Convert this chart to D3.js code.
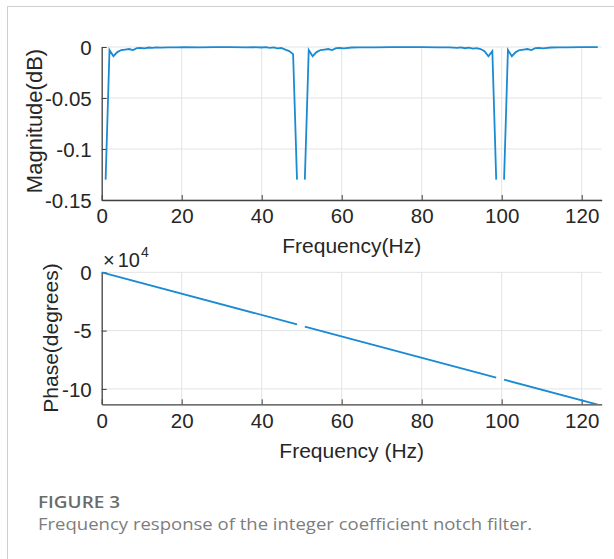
<!DOCTYPE html>
<html>
    <head>
        <script src="https://d3js.org/d3.v7.min.js"></script>
        <style>
            body { margin: 0; background: #ffffff; }
            .tick text { font-family: "Liberation Sans", Arial, sans-serif; }
        </style>
    </head>
    <body>
        <svg id="viz" width="614" height="559"></svg>

        <script>
        // magnitude response, freqz grid (Hz) and dB values; null = notch (-Inf)
        var magFreq = [0.98, 1.95, 2.93, 3.91, 4.88, 5.86, 6.84, 7.81, 8.79, 9.77, 10.74, 11.72, 12.70, 13.67, 14.65, 16.6, 18.6, 20.5, 24.4, 28.3, 32.2, 36.1, 38.1, 40.0, 41.0, 42.0, 43.0, 43.9, 44.9, 45.9, 46.88, 47.85, 48.83, 49.80,
                       50.78, 51.76, 52.73, 53.71, 54.69, 55.66, 56.64, 57.62, 58.59, 59.57, 60.55, 62.5, 64.5, 68.4, 72.3, 76.2, 80.1, 84.0, 86.9, 88.9, 89.8, 90.8, 91.8, 92.8, 93.75, 94.73, 95.70, 96.68, 97.66, 98.63, 99.61,
                       100.59, 101.56, 102.54, 103.52, 104.49, 105.47, 106.45, 107.42, 108.40, 109.38, 110.35, 112.3, 114.3, 116.2, 120.1, 124.02];
        var magDb = [-0.130, -0.003, -0.009, -0.005, -0.003, -0.0025, -0.002, -0.003, -0.0012, -0.001, -0.0013, -0.0005, -0.0009, -0.0004, -0.0006, -0.0003, -0.0004, -0.0002, -0.0003, -0.0002, -0.0002, -0.0003, -0.0002, -0.0005, -0.0002, -0.0009, -0.0003, -0.0013, -0.001, -0.0025, -0.004, -0.007, -0.130, null,
                     -0.130, -0.003, -0.009, -0.005, -0.003, -0.0025, -0.002, -0.003, -0.0012, -0.001, -0.0013, -0.0005, -0.0004, -0.0003, -0.0002, -0.0002, -0.0002, -0.0003, -0.0004, -0.0009, -0.0004, -0.0012, -0.0006, -0.0015, -0.0012, -0.002, -0.004, -0.009, -0.004, -0.130, null,
                     -0.130, -0.003, -0.009, -0.005, -0.003, -0.0025, -0.002, -0.003, -0.0012, -0.001, -0.0013, -0.0005, -0.0004, -0.0003, -0.0002, -0.0002];

        // phase response (degrees), straight runs with breaks at 50 Hz and 100 Hz
        var phaseFreq = [0, 48.83, 49.80, 50.78, 98.63, 99.61, 100.59, 124.02];
        var phaseDeg = [0, -44700, null, -46500, -90300, null, -92100, -113500];

        var freqTicks = [0, 20, 40, 60, 80, 100, 120];
        var magTicks = [0, -0.05, -0.1, -0.15];
        var magTickLabels = ["0", "-0.05", "-0.1", "-0.15"];
        var phaseTicks = [0, -50000, -100000];
        var phaseTickLabels = ["0", "-5", "-10"];

        var svg = d3.select("#viz");
        var lineColor = "#1a8bd2";
        var axisColor = "#404040";
        var gridColor = "#e3e3e3";
        var font = "'Liberation Sans', Arial, sans-serif";
        var capFont = "'Open Sans', Lato, sans-serif";

        // card frame
        svg.append("rect")
            .attr("x", 7.5).attr("y", 6.5)
            .attr("width", 640).attr("height", 600)
            .attr("fill", "none")
            .attr("stroke", "#cfcfcf");

        var x = d3.scaleLinear().domain([0, 125]).range([101.7, 601.7]);
        var yMag = d3.scaleLinear().domain([-0.15, 0]).range([200, 47]);
        var yPh = d3.scaleLinear().domain([-113200, 0]).range([404.3, 272.3]);

        function drawPanel(yScale, yTicks, yLabels, clipId) {
            var top = yScale.range()[1], bottom = yScale.range()[0];
            var g = svg.append("g");

            // grid
            g.selectAll(".vgrid").data(freqTicks.slice(1)).enter().append("line")
                .attr("x1", function(d) { return x(d); }).attr("x2", function(d) { return x(d); })
                .attr("y1", top).attr("y2", bottom)
                .attr("stroke", gridColor);
            g.selectAll(".hgrid").data(yTicks).enter().append("line")
                .attr("x1", x(0)).attr("x2", x(125))
                .attr("y1", function(d) { return yScale(d); }).attr("y2", function(d) { return yScale(d); })
                .attr("stroke", gridColor);

            // axes, ticks pointing inward like matlab
            var xAxis = d3.axisBottom(x).tickValues(freqTicks).tickSize(-5).tickSizeOuter(0).tickPadding(12)
                .tickFormat(d3.format("d"));
            var xg = g.append("g").attr("transform", "translate(0," + bottom + ")").call(xAxis);
            var yAxis = d3.axisLeft(yScale).tickValues(yTicks).tickSize(-5).tickSizeOuter(0).tickPadding(10)
                .tickFormat(function(d, i) { return yLabels[i]; });
            var yg = g.append("g").attr("transform", "translate(" + x(0) + ",0)").call(yAxis);

            [xg, yg].forEach(function(a) {
                a.select(".domain").attr("stroke", axisColor).attr("stroke-width", 1.3);
                a.selectAll(".tick line").attr("stroke", axisColor);
                a.selectAll(".tick text").attr("fill", "#262626").style("font-size", "20.5px");
            });
            xg.selectAll(".tick text").attr("dy", "0.55em");
            yg.selectAll(".tick text").attr("dy", "0.36em");

            svg.append("clipPath").attr("id", clipId).append("rect")
                .attr("x", x(0)).attr("y", top - 2)
                .attr("width", x(125) - x(0)).attr("height", bottom - top + 2);
            return g;
        }

        // top panel: magnitude
        var g1 = drawPanel(yMag, magTicks, magTickLabels, "clipMag");
        var magLine = d3.line()
            .defined(function(d) { return d[1] !== null; })
            .x(function(d) { return x(d[0]); })
            .y(function(d) { return yMag(d[1]); });
        g1.append("path")
            .datum(d3.zip(magFreq, magDb))
            .attr("d", magLine)
            .attr("clip-path", "url(#clipMag)")
            .attr("fill", "none")
            .attr("stroke", lineColor)
            .attr("stroke-width", 1.8);

        // bottom panel: phase
        var g2 = drawPanel(yPh, phaseTicks, phaseTickLabels, "clipPh");
        var phLine = d3.line()
            .defined(function(d) { return d[1] !== null; })
            .x(function(d) { return x(d[0]); })
            .y(function(d) { return yPh(d[1]); });
        g2.append("path")
            .datum(d3.zip(phaseFreq, phaseDeg))
            .attr("d", phLine)
            .attr("clip-path", "url(#clipPh)")
            .attr("fill", "none")
            .attr("stroke", lineColor)
            .attr("stroke-width", 1.8);

        // axis labels
        svg.append("text").attr("x", 351.7).attr("y", 253)
            .attr("text-anchor", "middle").attr("font-family", font).attr("font-size", 21).attr("fill", "#262626")
            .text("Frequency(Hz)");
        svg.append("text").attr("x", 351.7).attr("y", 458)
            .attr("text-anchor", "middle").attr("font-family", font).attr("font-size", 21).attr("fill", "#262626")
            .text("Frequency (Hz)");
        svg.append("text").attr("transform", "translate(41.5,121) rotate(-90)")
            .attr("text-anchor", "middle").attr("font-family", font).attr("font-size", 22).attr("fill", "#262626")
            .text("Magnitude(dB)");
        svg.append("text").attr("transform", "translate(58.3,338) rotate(-90)")
            .attr("text-anchor", "middle").attr("font-family", font).attr("font-size", 21).attr("fill", "#262626")
            .text("Phase(degrees)");

        // exponent label
        var expo = svg.append("text").attr("x", 103).attr("y", 267)
            .attr("font-family", font).attr("font-size", 20).attr("fill", "#262626");
        expo.append("tspan").attr("font-weight", 300).text("\u00d7");
        expo.append("tspan").attr("dx", 3).text("10");
        expo.append("tspan").attr("dy", -10).attr("dx", 1).attr("font-size", 14).text("4");

        // caption
        svg.append("text").attr("x", 38).attr("y", 507.5)
            .attr("font-family", capFont).attr("font-size", 17).attr("font-weight", 600)
            .attr("fill", "#6b6b6b")
            .attr("textLength", 82).attr("lengthAdjust", "spacingAndGlyphs")
            .text("FIGURE 3");
        svg.append("text").attr("x", 38).attr("y", 530)
            .attr("font-family", capFont).attr("font-size", 16.5)
            .attr("fill", "#7d7d7d")
            .attr("textLength", 494).attr("lengthAdjust", "spacingAndGlyphs")
            .text("Frequency response of the integer coefficient notch filter.");
        </script>
    </body>
</html>
